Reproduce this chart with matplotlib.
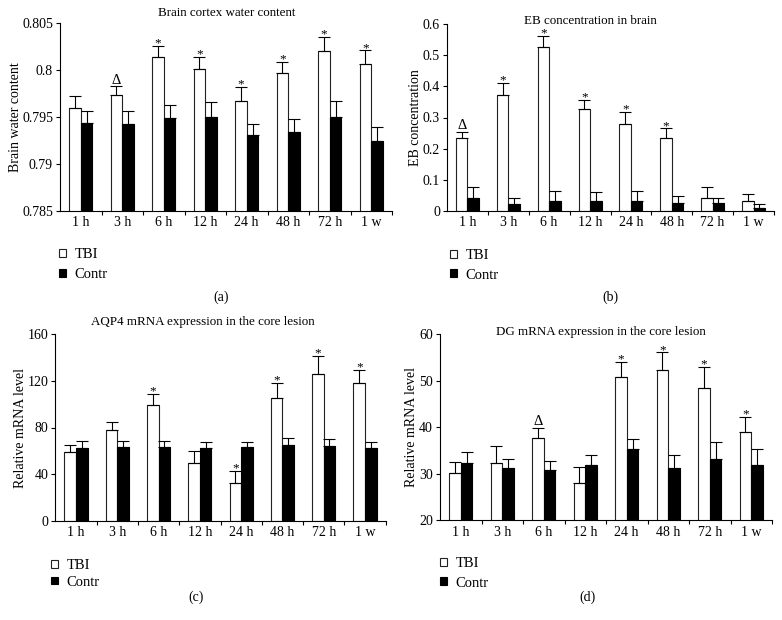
import numpy as np
import matplotlib
matplotlib.use('Agg')
import matplotlib.pyplot as plt
from matplotlib.ticker import FixedLocator

plt.rcParams['font.family'] = ['Liberation Serif', 'DejaVu Serif']

groups = ['1 h', '3 h', '6 h', '12 h', '24 h', '48 h', '72 h', '1 w']

# (a) brain cortex water content
a_tbi = [0.7960, 0.7973, 0.8014, 0.8001, 0.7967, 0.7997, 0.8020, 0.8007]
a_tbi_err = [0.0012, 0.0010, 0.0012, 0.0013, 0.0015, 0.0012, 0.00155, 0.0014]
a_con = [0.7944, 0.7942, 0.7949, 0.7950, 0.7931, 0.7934, 0.7950, 0.7924]
a_con_err = [0.0012, 0.0014, 0.00135, 0.0016, 0.0012, 0.0014, 0.0017, 0.0015]
a_sig = ['', '\u0394', '*', '*', '*', '*', '*', '*']

# (b) EB concentration
b_tbi = [0.235, 0.372, 0.526, 0.326, 0.280, 0.235, 0.042, 0.031]
b_tbi_err = [0.019, 0.038, 0.037, 0.031, 0.039, 0.030, 0.034, 0.023]
b_con = [0.040, 0.020, 0.032, 0.032, 0.032, 0.024, 0.024, 0.010]
b_con_err = [0.036, 0.022, 0.030, 0.027, 0.030, 0.022, 0.018, 0.013]
b_sig = ['\u0394', '*', '*', '*', '*', '*', '', '']

# (c) AQP4 mRNA
c_tbi = [58.6, 78.0, 99.7, 49.4, 32.0, 105.7, 126.3, 118.3]
c_tbi_err = [6.8, 6.9, 9.2, 10.3, 10.6, 12.6, 14.8, 11.4]
c_con = [62.6, 63.1, 63.1, 62.0, 63.1, 65.4, 64.3, 62.0]
c_con_err = [5.4, 5.5, 5.5, 5.7, 4.6, 5.7, 5.7, 5.7]
c_sig = ['', '', '*', '', '*', '*', '*', '*']

# (d) DG mRNA
d_tbi = [30.1, 32.2, 37.7, 28.0, 50.7, 52.3, 48.4, 38.9]
d_tbi_err = [2.3, 3.7, 2.2, 3.5, 3.3, 3.8, 4.6, 3.3]
d_con = [32.3, 31.1, 30.7, 31.9, 35.3, 31.2, 33.2, 31.9]
d_con_err = [2.3, 2.1, 2.0, 2.0, 2.2, 2.7, 3.5, 3.5]
d_sig = ['', '', '\u0394', '', '*', '*', '*', '*']

W, H = 782, 620
fig = plt.figure(figsize=(W / 100, H / 100), dpi=100)


def px_axes(left, right, top, bottom):
    return fig.add_axes([left / W, 1 - bottom / H, (right - left) / W, (bottom - top) / H])


def panel(ax, tbi, tbi_err, con, con_err, sig, yticks, yticklabels, ylabel, ylab_x):
    x = np.arange(len(groups))
    w = 0.28
    n = len(groups)
    ekw = dict(elinewidth=0.8, capthick=0.8, ecolor='black')
    b1 = ax.bar(x - w / 2, tbi, w, color='white', edgecolor='#222222', linewidth=0.8,
                yerr=[np.zeros(n), tbi_err], capsize=4, error_kw=ekw, label='TBI')
    b2 = ax.bar(x + w / 2, con, w, color='black', edgecolor='black', linewidth=0.8,
                yerr=[np.zeros(n), con_err], capsize=4, error_kw=ekw, label='Contr')
    for i, s in enumerate(sig):
        if s == '*':
            ax.annotate(s, (x[i] - w / 2, tbi[i] + tbi_err[i]), xytext=(0, -2.5),
                        textcoords='offset points', ha='center', va='bottom', fontsize=9.5)
        elif s:
            ax.annotate(s, (x[i] - w / 2, tbi[i] + tbi_err[i]), xytext=(0, -0.5),
                        textcoords='offset points', ha='center', va='bottom', fontsize=10.5)
    ax.set_xlim(-0.5, 7.5)
    ax.set_ylim(yticks[0], yticks[-1])
    ax.set_yticks(yticks)
    ax.set_yticklabels(yticklabels)
    ax.set_xticks(x)
    ax.set_xticklabels(groups)
    ax.xaxis.set_minor_locator(FixedLocator(np.arange(0.5, 8, 1)))
    ax.tick_params(axis='x', which='major', length=0, labelsize=10, pad=4)
    ax.tick_params(axis='x', which='minor', length=3, width=0.8, direction='out')
    ax.tick_params(axis='y', length=3, width=0.8, labelsize=10, pad=2)
    for s in ['top', 'right']:
        ax.spines[s].set_visible(False)
    for s in ['left', 'bottom']:
        ax.spines[s].set_linewidth(0.8)
    ax.set_ylabel(ylabel, fontsize=10)
    ax.yaxis.set_label_coords(ylab_x, 0.5)
    return b1, b2


ax_a = px_axes(60, 392, 23.3, 210.7)
h_a = panel(ax_a, a_tbi, a_tbi_err, a_con, a_con_err, a_sig,
            [0.785, 0.79, 0.795, 0.8, 0.805], ['0.785', '0.79', '0.795', '0.8', '0.805'],
            'Brain water content', -0.115)

ax_b = px_axes(447, 774, 24.3, 210.7)
h_b = panel(ax_b, b_tbi, b_tbi_err, b_con, b_con_err, b_sig,
            [0, 0.1, 0.2, 0.3, 0.4, 0.5, 0.6], ['0', '0.1', '0.2', '0.3', '0.4', '0.5', '0.6'],
            'EB concentration', -0.077)

ax_c = px_axes(55.4, 385.6, 334.3, 520.7)
h_c = panel(ax_c, c_tbi, c_tbi_err, c_con, c_con_err, c_sig,
            [0, 40, 80, 120, 160], ['0', '40', '80', '120', '160'],
            'Relative mRNA level', -0.086)

ax_d = px_axes(440, 772, 334.3, 520)
h_d = panel(ax_d, d_tbi, d_tbi_err, d_con, d_con_err, d_sig,
            [20, 30, 40, 50, 60], ['20', '30', '40', '50', '60'],
            'Relative mRNA level', -0.066)

titles = [('Brain cortex water content', 227, 12.5),
          ('EB concentration in brain', 590, 21),
          ('AQP4 mRNA expression in the core lesion', 203, 322),
          ('DG mRNA expression in the core lesion', 601, 332)]
for t, tx, ty in titles:
    fig.text(tx / W, 1 - ty / H, t, ha='center', va='center', fontsize=9.4)

labels = [('(a)', 221, 297), ('(b)', 610, 297), ('(c)', 196, 597), ('(d)', 587, 597)]
for t, tx, ty in labels:
    fig.text(tx / W, 1 - ty / H, t, ha='center', va='center', fontsize=10)

leg_pos = [(ax_a, h_a, 59, 248, 0.5), (ax_b, h_b, 450, 249, 0.45),
           (ax_c, h_c, 51, 559, 0.25), (ax_d, h_d, 440, 557, 0.45)]
for ax, hs, lx, ly, sp in leg_pos:
    ax.legend(hs, ['TBI', 'Contr'], loc='upper left', bbox_to_anchor=(lx / W, 1 - ly / H),
              bbox_transform=fig.transFigure, frameon=False, fontsize=10.5,
              handlelength=0.45, handleheight=0.45, handletextpad=0.6,
              labelspacing=sp, borderpad=0, borderaxespad=0)

fig.savefig('out.png', dpi=100)
